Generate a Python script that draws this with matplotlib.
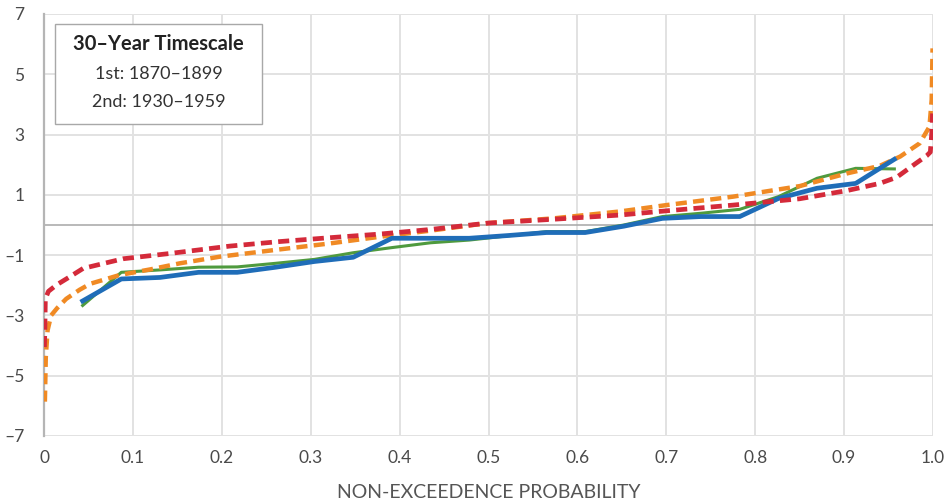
import matplotlib
matplotlib.use("Agg")
import matplotlib.pyplot as plt
from matplotlib.patches import Rectangle

plt.rcParams['font.family'] = ['Lato', 'DejaVu Sans']
plt.rcParams['lines.scale_dashes'] = False

# Empirical (plotting-position) series, n = 22 -> p = i/23
n_pts = 22
prob_emp = [i / (n_pts + 1) for i in range(1, n_pts + 1)]
blue_vals = [-2.52, -1.79, -1.74, -1.57, -1.57, -1.40, -1.21, -1.07, -0.44, -0.44,
             -0.44, -0.35, -0.25, -0.25, -0.04, 0.22, 0.28, 0.28, 0.88, 1.22, 1.38, 2.18]
green_vals = [-2.67, -1.57, -1.49, -1.40, -1.39, -1.27, -1.14, -0.92, -0.75, -0.59,
              -0.50, -0.36, -0.22, -0.22, 0.00, 0.28, 0.39, 0.52, 0.94, 1.55, 1.88, 1.86]

# Fitted distribution curves (dashed)
orange_p = [0.001, 0.002, 0.004, 0.008, 0.015, 0.025, 0.040, 0.052, 0.085, 0.120, 0.153,
            0.198, 0.265, 0.322, 0.378, 0.434, 0.498, 0.573, 0.648, 0.700, 0.775, 0.850,
            0.903, 0.940, 0.963, 0.985, 0.996, 0.9985, 0.9995]
orange_v = [-5.86, -4.40, -3.50, -3.00, -2.75, -2.45, -2.15, -1.95, -1.66, -1.47, -1.27,
            -1.05, -0.81, -0.61, -0.39, -0.19, 0.06, 0.22, 0.45, 0.66, 0.94, 1.29,
            1.71, 1.96, 2.27, 2.71, 3.26, 4.15, 5.86]
red_p = [0.0005, 0.001, 0.0015, 0.005, 0.014, 0.030, 0.044, 0.089, 0.140, 0.209, 0.265,
         0.322, 0.378, 0.434, 0.498, 0.573, 0.648, 0.700, 0.775, 0.850, 0.903, 0.940,
         0.959, 0.981, 0.993, 0.997, 0.9985, 0.9995]
red_v = [-4.05, -3.40, -2.45, -2.20, -1.99, -1.70, -1.44, -1.12, -0.95, -0.70, -0.55,
         -0.42, -0.30, -0.15, 0.06, 0.19, 0.33, 0.47, 0.66, 0.87, 1.14, 1.38,
         1.58, 2.05, 2.30, 2.42, 3.00, 3.70]

x_ticks = [0, 0.1, 0.2, 0.3, 0.4, 0.5, 0.6, 0.7, 0.8, 0.9, 1.0]
x_tick_labels = ['0', '0.1', '0.2', '0.3', '0.4', '0.5', '0.6', '0.7', '0.8', '0.9', '1.0']
y_ticks = [-7, -5, -3, -1, 1, 3, 5, 7]
y_tick_labels = ['\u20137', '\u20135', '\u20133', '\u20131', '1', '3', '5', '7']

legend_title = '30\u2013Year Timescale'
legend_lines = ['1st: 1870\u20131899', '2nd: 1930\u20131959']
x_label = 'NON-EXCEEDENCE PROBABILITY'

fig = plt.figure(figsize=(9.5, 5.04), dpi=100)
ax = fig.add_axes([44 / 950, (504 - 436) / 504, (933 - 44) / 950, (436 - 14) / 504])

ax.set_xlim(0, 1.0)
ax.set_ylim(-7, 7)
ax.set_xticks(x_ticks)
ax.set_xticklabels(x_tick_labels)
ax.set_yticks(y_ticks)
ax.set_yticklabels(y_tick_labels)
ax.tick_params(length=0, labelsize=12.5, colors='#4a4a4a', pad=14)
ax.tick_params(axis='x', pad=10)
ax.grid(True, color='#e2e2e2', linewidth=1.4)
ax.set_axisbelow(True)
for s in ['top', 'right', 'bottom']:
    ax.spines[s].set_visible(False)
ax.spines['left'].set_color('#b5b5b5')
ax.spines['left'].set_linewidth(1.6)
ax.axhline(0, color='#a6a6a6', linewidth=1.1, zorder=1)

ax.plot(prob_emp, green_vals, color='#4f9a3e', linewidth=2.2, zorder=3)
ax.plot(orange_p, orange_v, color='#f08a24', linewidth=3.2, linestyle=(0, (8, 4.5)),
        dash_capstyle='butt', zorder=4)
ax.plot(prob_emp, blue_vals, color='#1f6db8', linewidth=3.4, zorder=5)
ax.plot(red_p, red_v, color='#d42a3a', linewidth=3.4, linestyle=(0, (8, 4.5)),
        dash_capstyle='butt', zorder=6)

ax.set_xlabel(x_label, fontsize=14, color='#555555', labelpad=13)

ax.add_patch(Rectangle((0.0124, 0.739), 0.233, 0.237, transform=ax.transAxes,
                       facecolor='white', edgecolor='#a8a8a8', linewidth=1.0, zorder=7))
ax.text(0.1288, 0.929, legend_title, transform=ax.transAxes, ha='center', va='center',
        fontsize=14.5, fontweight='bold', color='#222222', zorder=8)
ax.text(0.1288, 0.858, legend_lines[0], transform=ax.transAxes, ha='center', va='center',
        fontsize=13, color='#333333', zorder=8)
ax.text(0.1288, 0.791, legend_lines[1], transform=ax.transAxes, ha='center', va='center',
        fontsize=13, color='#333333', zorder=8)

fig.savefig('out.png', dpi=100)
